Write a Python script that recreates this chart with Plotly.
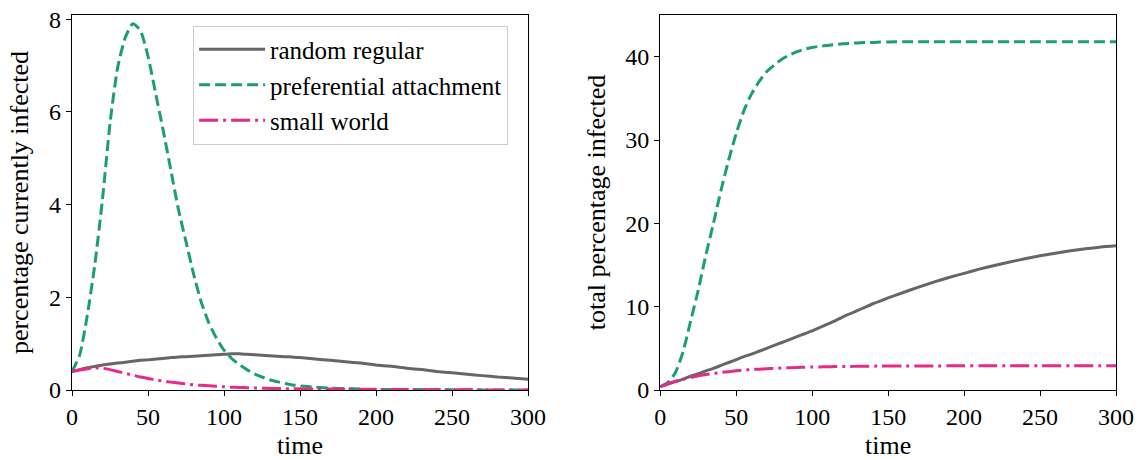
import plotly.graph_objects as go

# time points
time = [0, 5, 10, 15, 20, 25, 30, 35, 40, 45, 50, 55, 60, 65, 70, 75, 80, 85, 90, 95,
        100, 105, 110, 115, 120, 125, 130, 135, 140, 145, 150,
        160, 170, 180, 190, 200, 210, 220, 230, 240, 250, 260, 270, 280, 290, 300]

series_names = ["random regular", "preferential attachment", "small world"]

# percentage currently infected
regular_current = [0.40, 0.44, 0.48, 0.51, 0.54, 0.56, 0.58, 0.60, 0.62, 0.64, 0.65, 0.67, 0.68, 0.70, 0.71,
                   0.72, 0.73, 0.74, 0.75, 0.76, 0.77, 0.78, 0.78, 0.77, 0.76, 0.75, 0.74, 0.73, 0.72, 0.71, 0.70,
                   0.67, 0.64, 0.61, 0.58, 0.54, 0.51, 0.47, 0.44, 0.40, 0.37, 0.34, 0.31, 0.28, 0.26, 0.23]
pref_current = [0.40, 0.75, 1.6, 2.7, 4.1, 5.75, 6.95, 7.6, 7.9, 7.75, 7.2, 6.4, 5.6, 4.75, 3.9,
                3.2, 2.5, 1.9, 1.45, 1.12, 0.86, 0.68, 0.55, 0.44, 0.35, 0.28, 0.22, 0.18, 0.14, 0.11, 0.09,
                0.06, 0.04, 0.03, 0.02, 0.015, 0.01, 0.01, 0.01, 0.005, 0.005, 0.005, 0.0, 0.0, 0.0, 0.0]
small_current = [0.40, 0.43, 0.46, 0.48, 0.47, 0.44, 0.40, 0.36, 0.32, 0.28, 0.25, 0.22, 0.19, 0.17, 0.15,
                 0.13, 0.11, 0.10, 0.09, 0.08, 0.07, 0.06, 0.055, 0.05, 0.045, 0.04, 0.035, 0.03, 0.03, 0.025, 0.025,
                 0.02, 0.02, 0.015, 0.015, 0.01, 0.01, 0.01, 0.01, 0.005, 0.005, 0.005, 0.005, 0.0, 0.0, 0.0]

# total percentage infected
regular_total = [0.4, 0.7, 1.0, 1.3, 1.65, 1.95, 2.3, 2.6, 2.95, 3.3, 3.65, 4.0, 4.3, 4.65, 5.0,
                 5.35, 5.7, 6.05, 6.4, 6.75, 7.1, 7.5, 7.9, 8.3, 8.75, 9.15, 9.55, 9.95, 10.35, 10.7, 11.05,
                 11.7, 12.35, 12.95, 13.5, 14.0, 14.5, 14.95, 15.35, 15.75, 16.1, 16.4, 16.7, 16.95, 17.15, 17.3]
pref_total = [0.4, 0.9, 2.1, 4.6, 8.3, 12.0, 16.2, 20.0, 24.0, 27.6, 30.8, 33.5, 35.5, 37.0, 38.2,
              39.0, 39.7, 40.2, 40.6, 40.9, 41.1, 41.25, 41.35, 41.45, 41.55, 41.6, 41.65, 41.7, 41.7, 41.75, 41.75,
              41.8, 41.8, 41.8, 41.8, 41.8, 41.8, 41.8, 41.8, 41.8, 41.8, 41.8, 41.8, 41.8, 41.8, 41.8]
small_total = [0.4, 0.75, 1.05, 1.3, 1.5, 1.7, 1.85, 1.98, 2.1, 2.2, 2.3, 2.38, 2.45, 2.5, 2.55,
               2.6, 2.64, 2.67, 2.7, 2.73, 2.75, 2.77, 2.79, 2.81, 2.82, 2.83, 2.84, 2.85, 2.86, 2.87, 2.87,
               2.88, 2.89, 2.89, 2.9, 2.9, 2.9, 2.9, 2.9, 2.9, 2.9, 2.9, 2.9, 2.9, 2.9, 2.9]

x_ticks = [0, 50, 100, 150, 200, 250, 300]
left_y_ticks = [0, 2, 4, 6, 8]
right_y_ticks = [0, 10, 20, 30, 40]

colors = ["#666666", "#1b9e77", "#e7298a"]
dashes = ["solid", "11px,5px", "19px,5px,3px,5px"]
FONT = "Liberation Serif"
FS_TICK = 24
FS_TITLE = 26
FS_LEG = 25

fig = go.Figure()
left_data = [regular_current, pref_current, small_current]
right_data = [regular_total, pref_total, small_total]
for i, name in enumerate(series_names):
    fig.add_trace(go.Scatter(x=time, y=left_data[i], mode="lines", name=name,
                             legendgroup=name,
                             line=dict(color=colors[i], width=3, dash=dashes[i], shape="spline", smoothing=0.6),
                             xaxis="x", yaxis="y"))
for i, name in enumerate(series_names):
    fig.add_trace(go.Scatter(x=time, y=right_data[i], mode="lines", name=name,
                             legendgroup=name, showlegend=False,
                             line=dict(color=colors[i], width=3, dash=dashes[i], shape="spline", smoothing=0.6),
                             xaxis="x2", yaxis="y2"))

axis_common = dict(showline=True, linecolor="black", linewidth=1.3, mirror=True,
                   ticks="outside", ticklen=5, tickwidth=1.3, tickcolor="black",
                   showgrid=False, zeroline=False, automargin=False,
                   tickfont=dict(family=FONT, size=FS_TICK, color="black"))

fig.update_layout(
    width=1142, height=460,
    margin=dict(l=72, r=26, t=15, b=70),
    paper_bgcolor="white", plot_bgcolor="white",
    font=dict(family=FONT, size=FS_TICK, color="black"),
    xaxis=dict(domain=[0.0, 0.4368], range=[0, 300], tickvals=x_ticks, anchor="y",
               title=dict(text="time", font=dict(family=FONT, size=FS_TITLE), standoff=9), **axis_common),
    yaxis=dict(domain=[0.0, 1.0], range=[0, 8.09], tickvals=left_y_ticks, anchor="x",
               title=dict(text="percentage currently infected", font=dict(family=FONT, size=FS_TITLE), standoff=12),
               **axis_common),
    xaxis2=dict(domain=[0.5635, 1.0], range=[0, 300], tickvals=x_ticks, anchor="y2",
                title=dict(text="time", font=dict(family=FONT, size=FS_TITLE), standoff=9), **axis_common),
    yaxis2=dict(domain=[0.0, 1.0], range=[0, 45], tickvals=right_y_ticks, anchor="x2",
                title=dict(text="total percentage infected", font=dict(family=FONT, size=FS_TITLE), standoff=12),
                **axis_common),
    legend=dict(x=0.116, y=0.972, xanchor="left", yanchor="top",
                bgcolor="rgba(255,255,255,0.8)", bordercolor="#cccccc", borderwidth=1,
                font=dict(family=FONT, size=FS_LEG, color="black"),
                itemwidth=66,
                tracegroupgap=0, traceorder="grouped"),
    showlegend=True,
)

fig.write_html("out.html")
